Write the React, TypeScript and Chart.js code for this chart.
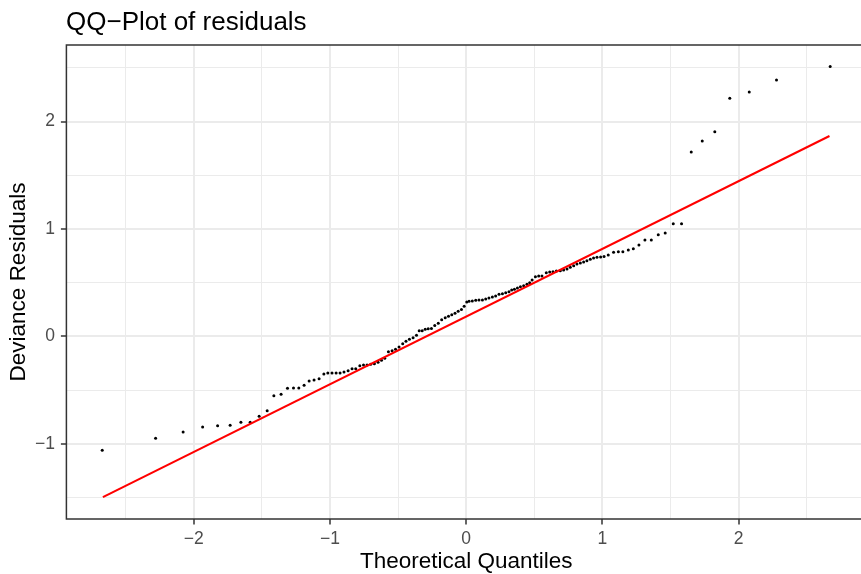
import { useEffect, useRef } from 'react';
import { Chart, registerables } from 'chart.js';

Chart.register(...registerables);

// Theoretical quantiles (x) and deviance residuals (y)
const quantileX = [
  -2.672, -2.280, -2.078, -1.935, -1.825, -1.733, -1.654, -1.586, -1.520, -1.461,
  -1.412, -1.359, -1.312, -1.268, -1.229, -1.190, -1.153, -1.117, -1.080, -1.045,
  -1.016, -0.985, -0.955, -0.926, -0.897, -0.867, -0.838, -0.811, -0.781, -0.754,
  -0.728, -0.701, -0.674, -0.647, -0.622, -0.598, -0.571, -0.544, -0.519, -0.493,
  -0.466, -0.442, -0.417, -0.390, -0.365, -0.345, -0.323, -0.301, -0.279, -0.255,
  -0.231, -0.205, -0.180, -0.154, -0.130, -0.106, -0.082, -0.059, -0.035, -0.015,
  0.004, 0.021, 0.045, 0.070, 0.094, 0.119, 0.143, 0.167, 0.192, 0.216,
  0.241, 0.266, 0.290, 0.314, 0.334, 0.354, 0.376, 0.398, 0.422, 0.446,
  0.466, 0.484, 0.508, 0.532, 0.556, 0.588, 0.613, 0.637, 0.662, 0.691,
  0.715, 0.740, 0.764, 0.789, 0.813, 0.838, 0.862, 0.886, 0.911, 0.935,
  0.960, 0.987, 1.012, 1.043, 1.082, 1.117, 1.150, 1.190, 1.227, 1.268,
  1.312, 1.359, 1.410, 1.461, 1.520, 1.581, 1.652, 1.733, 1.825, 1.935,
  2.078, 2.278, 2.672,
];

const residualY = [
  -1.059, -0.947, -0.888, -0.842, -0.830, -0.826, -0.798, -0.798, -0.742, -0.690,
  -0.551, -0.538, -0.482, -0.479, -0.479, -0.454, -0.414, -0.405, -0.393, -0.349,
  -0.340, -0.340, -0.340, -0.340, -0.330, -0.318, -0.300, -0.300, -0.272, -0.265,
  -0.265, -0.259, -0.253, -0.240, -0.221, -0.203, -0.141, -0.132, -0.119, -0.098,
  -0.067, -0.045, -0.026, -0.011, 0.011, 0.054, 0.054, 0.067, 0.073, 0.074,
  0.102, 0.123, 0.156, 0.174, 0.188, 0.203, 0.216, 0.234, 0.251, 0.281,
  0.321, 0.327, 0.330, 0.337, 0.340, 0.340, 0.349, 0.358, 0.367, 0.377,
  0.393, 0.398, 0.407, 0.417, 0.433, 0.439, 0.451, 0.463, 0.473, 0.486,
  0.500, 0.526, 0.556, 0.563, 0.563, 0.593, 0.600, 0.603, 0.609, 0.612,
  0.619, 0.628, 0.644, 0.659, 0.674, 0.684, 0.693, 0.705, 0.718, 0.730,
  0.737, 0.740, 0.744, 0.758, 0.783, 0.789, 0.789, 0.805, 0.817, 0.851,
  0.898, 0.898, 0.947, 0.963, 1.049, 1.049, 1.716, 1.819, 1.905, 2.216,
  2.274, 2.386, 2.513,
];

// Reference line (qqline) end points
const lineX = [-2.667, 2.667];
const lineY = [-1.495, 1.865];

// Axis ranges and tick step
const xRange = [-2.935, 2.935];
const yRange = [-1.698, 2.712];
const tickStep = 0.5;

const titleText = 'QQ\u2212Plot of residuals';
const xTitle = 'Theoretical Quantiles';
const yTitle = 'Deviance Residuals';

const FONT = '"Liberation Sans", Arial, Helvetica, sans-serif';

const isMajor = (v: number) => Math.abs(v - Math.round(v)) < 1e-6;
const fmt = (v: number) => {
  if (!isMajor(v)) return '';
  const r = Math.round(v);
  return r < 0 ? '\u2212' + Math.abs(r) : String(r);
};

const gridOpts = {
  color: '#ebebeb',
  lineWidth: (c: any) => (c.tick && isMajor(c.tick.value) ? 2 : 1),
  tickColor: (c: any) => (c.tick && isMajor(c.tick.value) ? '#333333' : 'rgba(0,0,0,0)'),
  tickLength: 5.5,
  tickWidth: 1.5,
  drawTicks: true,
};

const decorPlugin = {
  id: 'decor',
  afterDraw(chart: any) {
    const { ctx, chartArea } = chart;
    const { left, top, right, bottom } = chartArea;
    ctx.save();
    ctx.strokeStyle = '#333333';
    ctx.lineWidth = 1.5;
    ctx.strokeRect(left, top, right - left, bottom - top);

    ctx.fillStyle = '#000000';
    ctx.font = `26px ${FONT}`;
    ctx.textAlign = 'left';
    ctx.textBaseline = 'alphabetic';
    ctx.fillText(titleText, 66, 30);

    ctx.font = `22.5px ${FONT}`;
    ctx.textAlign = 'center';
    ctx.fillText(xTitle, (left + right) / 2, 568);

    ctx.translate(25, (top + bottom) / 2);
    ctx.rotate(-Math.PI / 2);
    ctx.fillText(yTitle, 0, 0);
    ctx.restore();
  },
};

export default function App() {
  const ref = useRef<HTMLCanvasElement | null>(null);

  useEffect(() => {
    if (!ref.current) return;
    const points = quantileX.map((x, i) => ({ x, y: residualY[i] }));
    const line = lineX.map((x, i) => ({ x, y: lineY[i] }));
    const chart = new Chart(ref.current, {
      type: 'scatter',
      data: {
        datasets: [
          {
            type: 'line',
            data: line,
            borderColor: '#ff0000',
            borderWidth: 2.1,
            pointRadius: 0,
            fill: false,
            tension: 0,
            order: 0,
          } as any,
          {
            type: 'scatter',
            data: points,
            backgroundColor: '#000000',
            borderWidth: 0,
            pointRadius: 1.5,
            order: 1,
          },
        ],
      },
      options: {
        animation: false,
        responsive: false,
        events: [],
        plugins: { legend: { display: false }, tooltip: { enabled: false }, title: { display: false } },
        layout: { padding: { top: 45, right: 3.5, left: 0, bottom: 0 } },
        scales: {
          x: {
            type: 'linear',
            min: xRange[0],
            max: xRange[1],
            afterFit(s: any) {
              s.height = 55;
            },
            ticks: {
              stepSize: tickStep,
              includeBounds: false,
              autoSkip: false,
              maxRotation: 0,
              callback: (v: any) => fmt(Number(v)),
              font: { family: FONT, size: 17.5 },
              color: '#4d4d4d',
              padding: 4,
            },
            grid: gridOpts as any,
            border: { display: false },
          },
          y: {
            type: 'linear',
            min: yRange[0],
            max: yRange[1],
            afterFit(s: any) {
              s.width = 66.4;
            },
            ticks: {
              stepSize: tickStep,
              includeBounds: false,
              autoSkip: false,
              callback: (v: any) => fmt(Number(v)),
              font: { family: FONT, size: 17.5 },
              color: '#4d4d4d',
              padding: 6,
            },
            grid: gridOpts as any,
            border: { display: false },
          },
        },
      } as any,
      plugins: [decorPlugin],
    });
    return () => chart.destroy();
  }, []);

  return (
    <div
      style={{
        position: 'fixed',
        left: 0,
        top: 0,
        width: 861,
        height: 574,
        overflow: 'hidden',
        background: '#ffffff',
      }}
    >
      <canvas ref={ref} width={870} height={574} style={{ display: 'block', width: 870, height: 574 }} />
    </div>
  );
}
